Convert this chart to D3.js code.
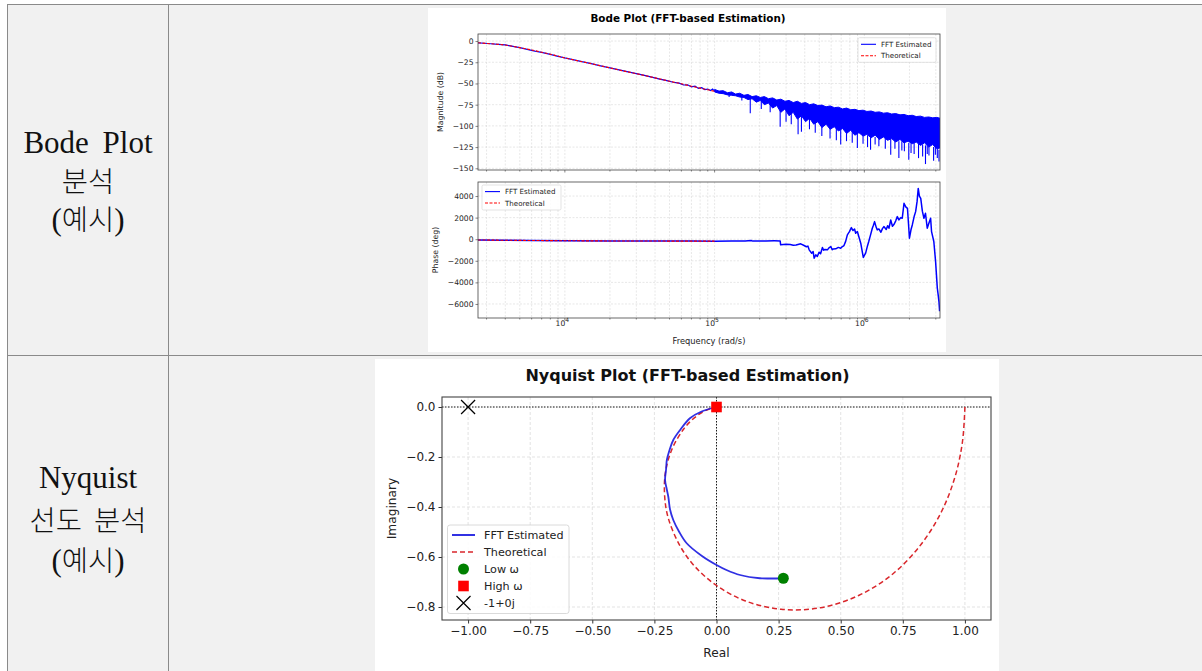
<!DOCTYPE html>
<html>
<head>
<meta charset="utf-8">
<script src="https://cdn.jsdelivr.net/npm/d3@7"></script>
<style>
body { margin: 0; background: #fff; }
svg { display: block; }
</style>
</head>
<body>
<svg id="page" width="1202" height="671"></svg>
<script>
// ---- Bode magnitude, smooth part (rad/s, dB) ----
var magFftFreq = [2630, 2900, 3200, 3600, 4000, 4500, 5000, 5600, 6300, 7000, 8000, 9000, 10000, 11500, 13000, 15000, 17000, 20000, 23000, 26000, 30000, 34000, 38000, 43000, 48000, 53000, 58000, 62000, 66000, 70000, 74000, 78000, 82000, 86000, 90000, 94000, 97000, 100000]
var magFftDb = [-2.1, -2.6, -3.2, -3.9, -4.6, -6.2, -7.8, -9.9, -11.8, -13.3, -15.8, -18.0, -19.9, -22.1, -24.3, -26.6, -28.9, -31.6, -34.0, -36.1, -38.4, -40.5, -42.6, -44.9, -46.6, -48.6, -49.6, -51.8, -51.5, -53.9, -53.2, -55.8, -55.0, -57.2, -56.6, -58.4, -56.5, -59.3]
var thFreq = [2630, 3000, 3500, 4000, 5000, 6000, 7000, 8500, 10000, 12500, 15000, 20000, 25000, 30000, 40000, 50000, 60000, 70000, 80000, 90000, 100000]
var thMagDb = [-2.1, -2.8, -3.7, -4.7, -7.8, -10.5, -13.2, -16.6, -19.9, -23.7, -26.6, -31.6, -35.5, -38.4, -43.4, -47.3, -50.4, -53.2, -55.5, -57.5, -59.3]
var thPhaseDeg = [-70, -78, -88, -96, -108, -118, -126, -135, -142, -150, -155, -162, -166, -169, -172, -174, -175, -176, -177, -177, -178]

// ---- noisy high-frequency magnitude: envelope + downward spikes ----
var bandFreq = [1.0e5, 1.07e5, 1.14e5, 1.22e5, 1.3e5, 1.38e5, 1.47e5, 1.57e5, 1.67e5, 1.78e5, 1.9e5, 2.02e5, 2.15e5, 2.29e5, 2.44e5, 2.6e5, 2.77e5, 2.95e5, 3.14e5, 3.35e5, 3.57e5, 3.8e5, 4.05e5, 4.31e5, 4.59e5, 4.89e5, 5.21e5, 5.55e5, 5.91e5, 6.3e5, 6.71e5, 7.15e5, 7.61e5, 8.11e5, 8.64e5, 9.2e5, 9.8e5, 1.04e6, 1.11e6, 1.18e6, 1.26e6, 1.34e6, 1.43e6, 1.52e6, 1.62e6, 1.73e6, 1.84e6, 1.96e6, 2.09e6, 2.22e6, 2.37e6, 2.52e6, 2.69e6, 2.86e6, 3.05e6, 3.2e6]
var bandHi = [-57, -59, -58.5, -61, -60, -62.5, -61.5, -64, -63, -65.5, -64.5, -66.5, -65.5, -68, -67, -69.5, -68.5, -71, -70, -72.5, -71, -73.5, -72.5, -75, -74, -76, -75.5, -77.5, -76.5, -78.5, -78, -80, -79, -81, -80.5, -82, -81.5, -83, -82.5, -84, -83.5, -85, -84.5, -86, -85.5, -87, -86.5, -88, -87.5, -89, -88.5, -90, -89.5, -90.5, -90, -91]
var bandLo = [-60, -61.5, -62, -63.5, -64, -64.5, -66, -66.5, -69, -68, -72, -70, -75, -73, -79, -76, -84, -80, -88, -84, -92, -88, -95, -91, -98, -95, -102, -98, -104, -101, -106, -103, -109, -105, -111, -108, -112, -110, -114, -111, -116, -113, -117, -115, -119, -116, -120, -118, -121, -119, -123, -120, -125, -122, -127, -126]
var spikeFreq = [1.25e5, 1.52e5, 1.73e5, 2.05e5, 2.35e5, 2.74e5, 3.0e5, 3.25e5, 3.61e5, 3.8e5, 4.3e5, 4.7e5, 5.2e5, 5.9e5, 6.5e5, 6.95e5, 7.6e5, 8.3e5, 8.98e5, 9.8e5, 1.05e6, 1.1e6, 1.18e6, 1.25e6, 1.38e6, 1.5e6, 1.6e6, 1.7e6, 1.78e6, 1.85e6, 1.98e6, 2.05e6, 2.15e6, 2.3e6, 2.45e6, 2.56e6, 2.63e6, 2.7e6, 2.9e6, 2.98e6, 3.07e6, 3.15e6]
var spikeTop = [-61, -64, -68, -70, -72, -75, -80, -82, -85, -88, -90, -93, -95, -98, -100, -100, -105, -106, -108, -110, -111, -112, -113, -113, -114, -115, -116, -118, -118, -118, -120, -120, -120, -121, -122, -123, -123, -123, -125, -125, -127, -128]
var spikeBottom = [-66, -70, -85, -80, -84, -101, -95, -98, -110, -107, -104, -108, -112, -115, -117, -122, -118, -120, -126, -121, -125, -128, -122, -124, -127, -134, -127, -138, -129, -130, -140, -132, -133, -138, -136, -145, -133, -135, -141, -134, -138, -142]

// ---- Bode phase, FFT estimate (rad/s, deg) ----
var phaseFreq = [2630, 4000, 6000, 1e4, 2e4, 4e4, 7e4, 1e5, 1.3e5, 1.6e5, 1.75e5, 1.8e5, 2.2e5, 2.5e5, 2.74e5, 2.76e5, 3.0e5, 3.2e5, 3.35e5, 3.5e5, 3.76e5, 3.96e5, 4.1e5, 4.2e5, 4.28e5, 4.45e5, 4.55e5, 4.62e5, 4.74e5, 4.85e5, 4.99e5, 5.1e5, 5.25e5, 5.35e5, 5.45e5, 5.67e5, 5.8e5, 5.97e5, 6.1e5, 6.2e5, 6.44e5, 6.7e5, 6.95e5, 7.1e5, 7.31e5, 7.5e5, 7.7e5, 7.95e5, 8.19e5, 8.4e5, 8.6e5, 8.75e5, 8.98e5, 9.2e5, 9.46e5, 9.84e5, 1.0e6, 1.02e6, 1.05e6, 1.07e6, 1.1e6, 1.13e6, 1.15e6, 1.17e6, 1.2e6, 1.22e6, 1.25e6, 1.29e6, 1.32e6, 1.35e6, 1.4e6, 1.43e6, 1.46e6, 1.5e6, 1.54e6, 1.58e6, 1.62e6, 1.66e6, 1.7e6, 1.75e6, 1.79e6, 1.84e6, 1.89e6, 1.94e6, 1.97e6, 2.0e6, 2.05e6, 2.09e6, 2.15e6, 2.2e6, 2.25e6, 2.29e6, 2.33e6, 2.38e6, 2.44e6, 2.5e6, 2.56e6, 2.63e6, 2.7e6, 2.77e6, 2.81e6, 2.91e6, 2.99e6, 3.07e6, 3.11e6, 3.15e6, 3.18e6]
var phaseFft = [-72, -95, -118, -140, -160, -170, -175, -178, -170, -175, -120, -175, -160, -150, -155, -520, -470, -500, -560, -540, -430, -585, -700, -640, -985, -1300, -1150, -1754, -1446, -1600, -1200, -1350, -770, -1020, -950, -985, -800, -677, -980, -900, -892, -760, -830, -700, -585, -200, 400, 700, 1077, 800, 950, 554, 708, 200, -369, -1692, -1500, -1292, -600, -215, 400, 1015, 1300, 1631, 1100, 862, 950, 646, 980, 1169, 900, 1250, 1015, 1785, 1200, 1385, 1700, 2092, 1785, 2000, 1938, 3323, 3000, 2862, 1500, 92, 900, 1323, 2100, 2554, 3500, 4708, 4000, 3785, 2600, 1938, 2400, 1015, 1500, 1938, 708, -215, -2062, -4523, -5138, -5800, -6677]

// ---- Nyquist (real, imaginary) ----
var nyqFftRe = [0.269, 0.22, 0.175, 0.095, 0.04, 0, -0.06, -0.12, -0.15, -0.174, -0.187, -0.194, -0.2, -0.207, -0.203, -0.2, -0.19, -0.174, -0.145, -0.107, -0.06, 0]
var nyqFftIm = [-0.685, -0.686, -0.685, -0.672, -0.652, -0.632, -0.595, -0.545, -0.5, -0.452, -0.41, -0.359, -0.33, -0.292, -0.25, -0.212, -0.175, -0.132, -0.09, -0.045, -0.018, 0]
var nyqThRe = [1.0, 0.99, 0.96, 0.906, 0.824, 0.713, 0.574, 0.418, 0.26, 0.117, 0, -0.087, -0.146, -0.194, -0.209, -0.205, -0.178, -0.132, -0.098, -0.059, -0.027, 0]
var nyqThIm = [0, -0.14, -0.28, -0.418, -0.549, -0.665, -0.753, -0.803, -0.809, -0.776, -0.714, -0.638, -0.557, -0.445, -0.352, -0.258, -0.166, -0.088, -0.051, -0.022, -0.007, 0]

var magTicks = [0, -25, -50, -75, -100, -125, -150]
var phaseTicks = [4000, 2000, 0, -2000, -4000, -6000]
var nyqXTicks = [-1, -0.75, -0.5, -0.25, 0, 0.25, 0.5, 0.75, 1]
var nyqYTicks = [0, -0.2, -0.4, -0.6, -0.8]
var rowLabels = [["Bode Plot", "분석", "(예시)"], ["Nyquist", "선도 분석", "(예시)"]]

var svg = d3.select('#page')
var minus = function(s) { return String(s).replace('-', '\u2212') }
var FONT = 'DejaVu Sans'

// ---------- table ----------
svg.append('rect').attr('x', 7).attr('y', 4).attr('width', 1200).attr('height', 700).attr('fill', '#f1f1f1')
var bc = '#8a8a8a'
svg.append('line').attr('x1', 7).attr('x2', 1202).attr('y1', 4.5).attr('y2', 4.5).attr('stroke', bc)
svg.append('line').attr('x1', 7).attr('x2', 1202).attr('y1', 355.5).attr('y2', 355.5).attr('stroke', bc)
svg.append('line').attr('x1', 7.5).attr('x2', 7.5).attr('y1', 4).attr('y2', 671).attr('stroke', bc)
svg.append('line').attr('x1', 168.5).attr('x2', 168.5).attr('y1', 4).attr('y2', 671).attr('stroke', bc)

var labelBase = [[152.5, 192, 230], [488, 531, 571]]
rowLabels.forEach(function(lines, r) {
  lines.forEach(function(t, i) {
    var txt = svg.append('text').attr('x', 88).attr('y', labelBase[r][i])
      .attr('text-anchor', 'middle').attr('fill', '#111')
      .style('font-family', '"Liberation Serif", "Noto Sans CJK KR"')
      .style('font-size', '31px')
    if (t == 'Bode Plot') txt.style('word-spacing', '6px')
    // hangul runs a little smaller and lighter than the latin serif
    t.split(/([\uAC00-\uD7A3 ]+)/).forEach(function(part) {
      if (!part) return
      var hangul = /[\uAC00-\uD7A3]/.test(part)
      var sp = txt.append('tspan').text(part)
      if (hangul) sp.style('font-size', '28.5px').style('font-weight', 300).style('word-spacing', '5px')
    })
  })
})

// ---------- Bode figure ----------
svg.append('rect').attr('x', 428).attr('y', 8).attr('width', 518).attr('height', 344).attr('fill', '#fff')
svg.append('text').attr('x', 688).attr('y', 22).attr('text-anchor', 'middle')
  .style('font-family', FONT).style('font-size', '10.4px').style('font-weight', 'bold').text('Bode Plot (FFT-based Estimation)')

var x = d3.scaleLog().domain([2630, 3.2e6]).range([478, 940])
var yMag = d3.scaleLinear().domain([8.3, -152]).range([34, 170])
var yPh = d3.scaleLinear().domain([5300, -7300]).range([182, 318])
var xAll = x.ticks().filter(function(d) { return d >= 2630 && d <= 3.2e6 })
var xMajor = [1e4, 1e5, 1e6]

function bodePanel(y, yTicks, top, bottom, label, labelX) {
  var g = svg.append('g')
  var clipId = 'clip' + top
  svg.append('clipPath').attr('id', clipId).append('rect')
    .attr('x', 478).attr('y', top).attr('width', 462).attr('height', bottom - top)
  // grid
  g.selectAll('.vg').data(xAll).join('line')
    .attr('x1', function(d) { return x(d) }).attr('x2', function(d) { return x(d) })
    .attr('y1', top).attr('y2', bottom)
    .attr('stroke', '#d6d6d6').attr('stroke-width', 0.6).attr('stroke-dasharray', '2,1.5')
  g.selectAll('.hg').data(yTicks).join('line')
    .attr('x1', 478).attr('x2', 940).attr('y1', function(d) { return y(d) }).attr('y2', function(d) { return y(d) })
    .attr('stroke', '#d6d6d6').attr('stroke-width', 0.6).attr('stroke-dasharray', '2,1.5')
  // y axis
  var ya = g.append('g').attr('transform', 'translate(478,0)')
    .call(d3.axisLeft(y).tickValues(yTicks).tickSize(2.5).tickPadding(2).tickFormat(minus))
  ya.select('.domain').remove()
  ya.selectAll('text').style('font-family', FONT).style('font-size', '7.6px').attr('fill', '#222')
  ya.selectAll('line').attr('stroke', '#333').attr('stroke-width', 0.6)
  // x ticks
  g.selectAll('.xt').data(xAll).join('line')
    .attr('x1', function(d) { return x(d) }).attr('x2', function(d) { return x(d) })
    .attr('y1', bottom).attr('y2', function(d) { return bottom + (xMajor.indexOf(d) >= 0 ? 2.5 : 1.5) })
    .attr('stroke', '#333').attr('stroke-width', 0.6)
  svg.append('text').attr('transform', 'translate(' + labelX + ',' + (top + bottom) / 2 + ') rotate(-90)')
    .attr('text-anchor', 'middle').style('font-family', FONT).style('font-size', '7.8px').attr('fill', '#222').text(label)
  return {g: g, clip: 'url(#' + clipId + ')'}
}

// magnitude
var pm = bodePanel(yMag, magTicks, 34, 170, 'Magnitude (dB)', 443)
var band = bandFreq.map(function(f, i) { return [f, bandHi[i], bandLo[i]] })
pm.g.append('path').datum(band).attr('clip-path', pm.clip)
  .attr('d', d3.area().x(function(d) { return x(d[0]) }).y0(function(d) { return yMag(d[1]) }).y1(function(d) { return yMag(d[2]) }))
  .attr('fill', '#0000ff').attr('stroke', '#0000ff').attr('stroke-width', 1)
pm.g.selectAll('.spk').data(spikeFreq).join('line').attr('clip-path', pm.clip)
  .attr('x1', function(d) { return x(d) }).attr('x2', function(d) { return x(d) })
  .attr('y1', function(d, i) { return yMag(spikeTop[i]) }).attr('y2', function(d, i) { return yMag(spikeBottom[i]) })
  .attr('stroke', '#0000ff').attr('stroke-width', 1.1)
var magLine = d3.line().x(function(d) { return x(d[0]) }).y(function(d) { return yMag(d[1]) })
pm.g.append('path').datum(magFftFreq.map(function(f, i) { return [f, magFftDb[i]] }))
  .attr('d', magLine).attr('fill', 'none').attr('stroke', '#0000ff').attr('stroke-width', 1.2)
pm.g.append('path').datum(thFreq.map(function(f, i) { return [f, thMagDb[i]] }))
  .attr('d', magLine).attr('fill', 'none').attr('stroke', '#ff0000').attr('stroke-width', 1.1).attr('stroke-dasharray', '3,1.5')

// phase
var pp = bodePanel(yPh, phaseTicks, 182, 318, 'Phase (deg)', 438)
var phLine = d3.line().x(function(d) { return x(d[0]) }).y(function(d) { return yPh(d[1]) })
pp.g.append('path').datum(phaseFreq.map(function(f, i) { return [f, phaseFft[i]] })).attr('clip-path', pp.clip)
  .attr('d', phLine).attr('fill', 'none').attr('stroke', '#0000ff').attr('stroke-width', 1.5).attr('stroke-linejoin', 'round')
pp.g.append('path').datum(thFreq.map(function(f, i) { return [f, thPhaseDeg[i]] }))
  .attr('d', phLine).attr('fill', 'none').attr('stroke', '#ff0000').attr('stroke-width', 1.1).attr('stroke-dasharray', '3,1.5')

// x labels on phase panel
xMajor.forEach(function(d) {
  var t = svg.append('text').attr('x', x(d) - 2.5).attr('y', 326).attr('text-anchor', 'middle')
    .style('font-family', FONT).style('font-size', '7.6px').attr('fill', '#222')
  t.append('tspan').text('10')
  t.append('tspan').attr('dy', -3.6).style('font-size', '6px').text(String(Math.round(Math.log10(d))))
})
svg.append('text').attr('x', 709).attr('y', 344).attr('text-anchor', 'middle')
  .style('font-family', FONT).style('font-size', '8.3px').attr('fill', '#222').text('Frequency (rad/s)')

// frames
;[[34, 170], [182, 318]].forEach(function(r) {
  svg.append('rect').attr('x', 478).attr('y', r[0]).attr('width', 462).attr('height', r[1] - r[0])
    .attr('fill', 'none').attr('stroke', '#444').attr('stroke-width', 0.8)
})

function bodeLegend(bx, by, bw, bh) {
  var lg = svg.append('g').attr('transform', 'translate(' + bx + ',' + by + ')')
  lg.append('rect').attr('width', bw).attr('height', bh).attr('rx', 1.5)
    .attr('fill', '#fff').attr('fill-opacity', 0.85).attr('stroke', '#d0d0d0').attr('stroke-width', 0.6)
  var items = [['FFT Estimated', '#0000ff', null], ['Theoretical', '#ff0000', '3,1.5']]
  items.forEach(function(it, i) {
    var yy = 6.6 + i * 11.4
    lg.append('line').attr('x1', 3).attr('x2', 18).attr('y1', yy).attr('y2', yy)
      .attr('stroke', it[1]).attr('stroke-width', 1.1).attr('stroke-dasharray', it[2])
    lg.append('text').attr('x', 23).attr('y', yy + 2.5).style('font-family', FONT).style('font-size', '7.1px')
      .attr('fill', '#222').text(it[0])
  })
}
bodeLegend(858, 37.7, 78, 24.6)
bodeLegend(482, 185, 79, 25)

// ---------- Nyquist figure ----------
svg.append('rect').attr('x', 375).attr('y', 359).attr('width', 624).attr('height', 320).attr('fill', '#fff')
svg.append('text').attr('x', 687.5).attr('y', 380.5).attr('text-anchor', 'middle')
  .style('font-family', FONT).style('font-size', '16px').style('font-weight', 'bold').attr('fill', '#111')
  .text('Nyquist Plot (FFT-based Estimation)')

var nx = d3.scaleLinear().domain([-1.105, 1.105]).range([442, 991])
var ny = d3.scaleLinear().domain([0.04, -0.852]).range([397, 620])
var ng = svg.append('g')
svg.append('clipPath').attr('id', 'nclip').append('rect').attr('x', 442).attr('y', 397).attr('width', 549).attr('height', 223)

ng.selectAll('.gx').data(nyqXTicks).join('line')
  .attr('x1', function(d) { return nx(d) }).attr('x2', function(d) { return nx(d) }).attr('y1', 397).attr('y2', 620)
  .attr('stroke', '#dcdcdc').attr('stroke-width', 0.8).attr('stroke-dasharray', '3,2')
ng.selectAll('.gy').data(nyqYTicks).join('line')
  .attr('y1', function(d) { return ny(d) }).attr('y2', function(d) { return ny(d) }).attr('x1', 442).attr('x2', 991)
  .attr('stroke', '#dcdcdc').attr('stroke-width', 0.8).attr('stroke-dasharray', '3,2')
// zero lines
ng.append('line').attr('x1', 442).attr('x2', 991).attr('y1', ny(0)).attr('y2', ny(0))
  .attr('stroke', '#000').attr('stroke-width', 0.9).attr('stroke-dasharray', '1.5,1.5')
ng.append('line').attr('x1', nx(0)).attr('x2', nx(0)).attr('y1', 397).attr('y2', 620)
  .attr('stroke', '#000').attr('stroke-width', 0.9).attr('stroke-dasharray', '1.5,1.5')

var nLine = d3.line().curve(d3.curveCatmullRom).x(function(d) { return nx(d[0]) }).y(function(d) { return ny(d[1]) })
ng.append('path').datum(nyqThRe.map(function(r, i) { return [r, nyqThIm[i]] })).attr('clip-path', 'url(#nclip)')
  .attr('d', nLine).attr('fill', 'none').attr('stroke', '#d9262b').attr('stroke-width', 1.5).attr('stroke-dasharray', '5,3')
ng.append('path').datum(nyqFftRe.map(function(r, i) { return [r, nyqFftIm[i]] }))
  .attr('d', nLine).attr('fill', 'none').attr('stroke', '#1a1ae0').attr('stroke-width', 1.8).attr('stroke-opacity', 0.9)

// markers
ng.append('circle').attr('cx', nx(nyqFftRe[0])).attr('cy', ny(nyqFftIm[0])).attr('r', 5.5).attr('fill', '#008000')
ng.append('rect').attr('x', nx(0) - 5.3).attr('y', ny(0) - 5.3).attr('width', 10.6).attr('height', 10.6).attr('fill', '#ff0000')
function xMark(g, cx, cy, h) {
  g.append('path').attr('d', 'M' + (cx - h) + ',' + (cy - h) + 'L' + (cx + h) + ',' + (cy + h) + 'M' + (cx - h) + ',' + (cy + h) + 'L' + (cx + h) + ',' + (cy - h))
    .attr('stroke', '#000').attr('stroke-width', 1.2)
}
xMark(ng, nx(-1), ny(0), 7)

// axes
var nxa = svg.append('g').attr('transform', 'translate(0,620)')
  .call(d3.axisBottom(nx).tickValues(nyqXTicks).tickSize(3.5).tickPadding(3).tickFormat(function(d) { return minus(d3.format('.2f')(d)) }))
var nya = svg.append('g').attr('transform', 'translate(442,0)')
  .call(d3.axisLeft(ny).tickValues(nyqYTicks).tickSize(3.5).tickPadding(3).tickFormat(function(d) { return minus(d3.format('.1f')(d)) }))
;[nxa, nya].forEach(function(a) {
  a.select('.domain').remove()
  a.selectAll('text').style('font-family', FONT).style('font-size', '12px').attr('fill', '#222')
  a.selectAll('line').attr('stroke', '#333')
})
svg.append('rect').attr('x', 442).attr('y', 397).attr('width', 549).attr('height', 223)
  .attr('fill', 'none').attr('stroke', '#444').attr('stroke-width', 1.1)
svg.append('text').attr('x', nx(0)).attr('y', 657).attr('text-anchor', 'middle')
  .style('font-family', FONT).style('font-size', '12.2px').attr('fill', '#222').text('Real')
svg.append('text').attr('transform', 'translate(396,508.5) rotate(-90)').attr('text-anchor', 'middle')
  .style('font-family', FONT).style('font-size', '12.2px').attr('fill', '#222').text('Imaginary')

// legend
var nl = svg.append('g').attr('transform', 'translate(447.5,525)')
nl.append('rect').attr('width', 121.5).attr('height', 88.5).attr('rx', 2.5)
  .attr('fill', '#fff').attr('fill-opacity', 0.85).attr('stroke', '#d0d0d0').attr('stroke-width', 0.8)
var nItems = ['FFT Estimated', 'Theoretical', 'Low \u03c9', 'High \u03c9', '-1+0j']
nItems.forEach(function(t, i) {
  var yy = 10 + i * 17
  if (i == 0) nl.append('line').attr('x1', 4.5).attr('x2', 27.5).attr('y1', yy).attr('y2', yy).attr('stroke', '#1a1ae0').attr('stroke-width', 1.8)
  if (i == 1) nl.append('line').attr('x1', 4.5).attr('x2', 27.5).attr('y1', yy).attr('y2', yy).attr('stroke', '#d9262b').attr('stroke-width', 1.5).attr('stroke-dasharray', '5,3')
  if (i == 2) nl.append('circle').attr('cx', 16).attr('cy', yy).attr('r', 5.5).attr('fill', '#008000')
  if (i == 3) nl.append('rect').attr('x', 10.7).attr('y', yy - 5.3).attr('width', 10.6).attr('height', 10.6).attr('fill', '#ff0000')
  if (i == 4) xMark(nl, 16, yy, 7)
  nl.append('text').attr('x', 36.5).attr('y', yy + 4).style('font-family', FONT).style('font-size', '11.2px')
    .attr('fill', '#222').text(t)
})
</script>
</body>
</html>
